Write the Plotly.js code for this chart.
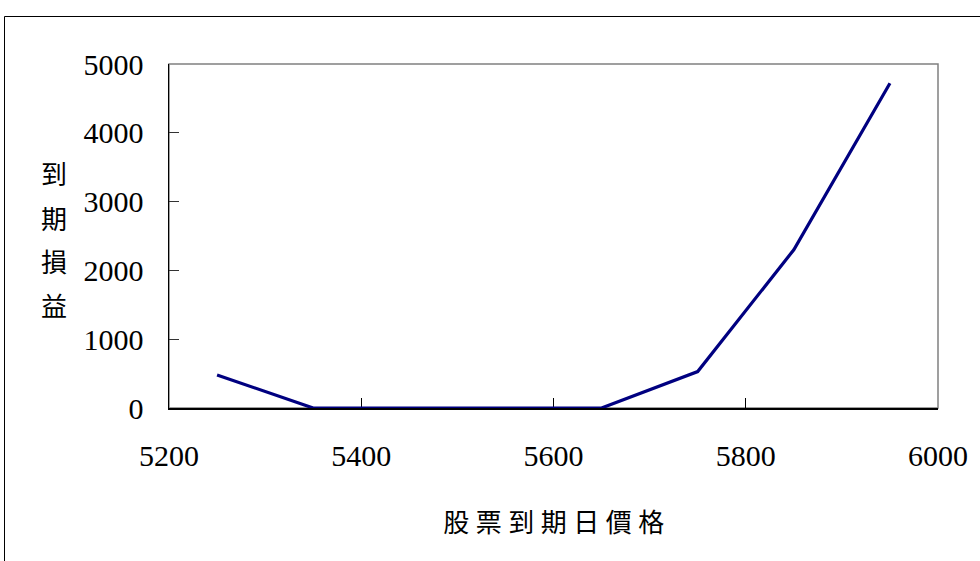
<!DOCTYPE html>
<html>
<head>
<meta charset="utf-8">
<script src="https://cdn.plot.ly/plotly-3.0.1.min.js"></script>
<style>
  html, body { margin: 0; padding: 0; background: #ffffff; }
  #chart { width: 980px; height: 561px; }
</style>
</head>
<body>
<div id="chart"></div>
<script>
// Payoff at expiry against the stock price at expiry
const stockPrice = [5250, 5350, 5450, 5550, 5650, 5750, 5850, 5950];
const payoff     = [480, 0, 0, 0, 0, 530, 2300, 4720];

const xTickValues = [5200, 5400, 5600, 5800, 6000];
const yTickValues = [0, 1000, 2000, 3000, 4000, 5000];

const xTitleText = '股票到期日價格';
const yTitleText = '到期損益';

const serif = 'Liberation Serif';
const cjk = 'Noto Sans CJK TC';

const marginL = 169, marginR = 42, marginT = 64, marginB = 153;
const plotW = 980 - marginL - marginR;
const plotH = 561 - marginT - marginB;

// vertical title, one character per line, centres in px from the top
const yTitleCentres = [172.5, 217, 260, 304.5];
const yTitleAnnotations = Array.from(yTitleText).map((ch, i) => ({
  text: ch,
  xref: 'paper', yref: 'paper',
  x: (54 - marginL) / plotW,
  y: (marginT + plotH - yTitleCentres[i]) / plotH,
  xanchor: 'center', yanchor: 'middle',
  showarrow: false,
  font: { family: cjk, size: 26, color: '#000000' }
}));

const trace = {
  x: stockPrice,
  y: payoff,
  type: 'scatter',
  mode: 'lines',
  line: { color: '#000080', width: 3.2 },
  cliponaxis: false,
  hoverinfo: 'x+y'
};

const layout = {
  width: 980,
  height: 561,
  margin: { l: marginL, r: marginR, t: marginT, b: marginB, pad: 0 },
  paper_bgcolor: '#ffffff',
  plot_bgcolor: '#ffffff',
  showlegend: false,
  xaxis: {
    range: [5200, 6000],
    tickvals: xTickValues,
    ticktext: xTickValues.map(String),
    ticks: 'inside',
    ticklen: 10,
    tickcolor: '#000000',
    tickwidth: 1,
    showline: true,
    linecolor: '#000000',
    linewidth: 1.5,
    showgrid: false,
    zeroline: false,
    ticklabelstandoff: 20,
    layer: 'below traces',
    tickfont: { family: serif, size: 30, color: '#000000' }
  },
  yaxis: {
    range: [0, 5000],
    tickvals: yTickValues,
    ticktext: yTickValues.map(String),
    ticks: 'inside',
    ticklen: 10,
    tickcolor: '#333333',
    tickwidth: 1,
    showline: true,
    linecolor: '#000000',
    linewidth: 1.5,
    showgrid: false,
    zeroline: false,
    ticklabelstandoff: 18,
    layer: 'below traces',
    tickfont: { family: serif, size: 30, color: '#000000' }
  },
  shapes: [
    // plot area frame (top and right edges show in grey)
    { type: 'rect', xref: 'paper', yref: 'paper', x0: 0, x1: 1, y0: 0, y1: 1,
      line: { color: '#808080', width: 1.5 }, layer: 'below' },
    // chart area border
    { type: 'rect', xref: 'paper', yref: 'paper',
      x0: (4.5 - marginL) / plotW, x1: 1.2,
      y0: -0.6, y1: (marginT + plotH - 16.5) / plotH,
      line: { color: '#000000', width: 1 }, layer: 'below' }
  ],
  annotations: [
    {
      text: xTitleText,
      xref: 'paper', yref: 'paper',
      x: 0.5, y: 0,
      xanchor: 'center', yanchor: 'middle',
      yshift: -(520 - (marginT + plotH)),
      xshift: 3,
      showarrow: false,
      font: { family: cjk, size: 26, color: '#000000' }
    }
  ].concat(yTitleAnnotations)
};

Plotly.newPlot('chart', [trace], layout, { displayModeBar: false, staticPlot: true }).then(gd => {
  const t = gd.querySelector('.annotation[data-index="0"] text');
  if (t) t.style.letterSpacing = '6.5px';
});
</script>
</body>
</html>
